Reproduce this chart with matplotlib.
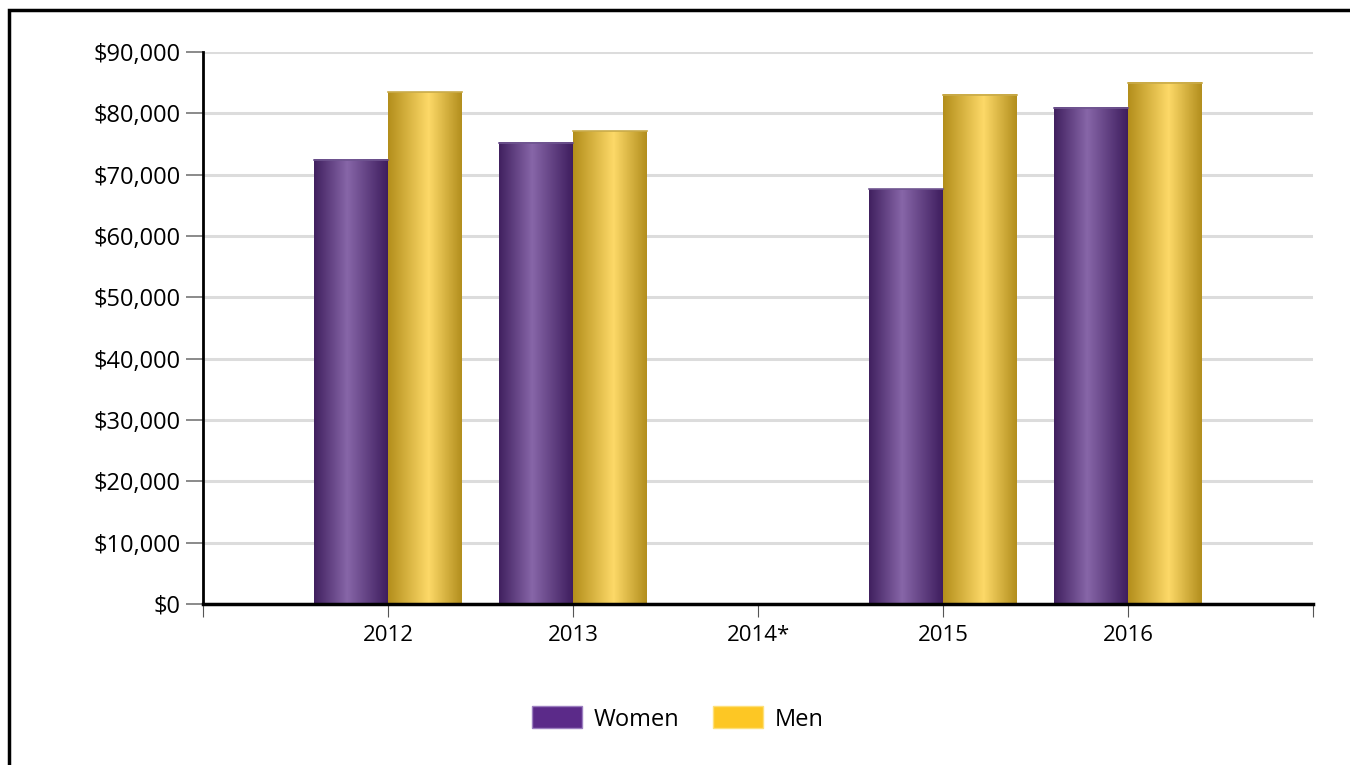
import matplotlib

matplotlib.use("Agg")
import matplotlib.pyplot as plt
import numpy as np
from matplotlib.colors import LinearSegmentedColormap
from matplotlib.patches import Patch, Rectangle
from matplotlib.ticker import FuncFormatter, MultipleLocator

years = ["2012", "2013", "2014*", "2015", "2016"]
women = [72400, 75200, 0, 67600, 80900]
men = [83400, 77100, 0, 83000, 85000]

plt.rcParams["font.family"] = ["Open Sans", "DejaVu Sans"]

fig = plt.figure(figsize=(13.5, 7.65), dpi=100)
ax = fig.add_axes([203 / 1350, 1 - 604 / 765, 1110 / 1350, 552 / 765])

# frame round the whole picture (right and bottom edges fall outside)
fig.patches.append(Rectangle((9 / 1350, -0.05), 1.1, 1 - 10 / 765 + 0.05,
                             transform=fig.transFigure, fill=False,
                             edgecolor="black", linewidth=2.5))

x = np.arange(len(years))
w = 0.4
bars_w = ax.bar(x - w / 2, women, w, color="none")
bars_m = ax.bar(x + w / 2, men, w, color="none")

cmap_w = LinearSegmentedColormap.from_list(
    "purple", [(0, "#40205f"), (0.45, "#8766a8"), (1, "#3e1d5e")])
cmap_m = LinearSegmentedColormap.from_list(
    "gold", [(0, "#b38e1b"), (0.55, "#fdd968"), (1, "#b28e1d")])
grad = np.linspace(0, 1, 256).reshape(1, -1)

for bars, cmap, edge in [(bars_w, cmap_w, "#6f5590"), (bars_m, cmap_m, "#c9ab4a")]:
    for r in bars:
        h = r.get_height()
        if h <= 0:
            continue
        x0 = r.get_x()
        ax.imshow(grad, cmap=cmap, aspect="auto", interpolation="bicubic",
                  extent=(x0, x0 + r.get_width(), 0, h), zorder=2)
        ax.plot([x0, x0 + r.get_width()], [h, h], color=edge, linewidth=1.2, zorder=3)

ax.set_xlim(-1, 5)
ax.set_ylim(0, 90000)
ax.yaxis.set_major_locator(MultipleLocator(10000))
ax.yaxis.set_major_formatter(FuncFormatter(lambda v, _: f"${v:,.0f}"))
ax.grid(axis="y", color="#dcdcdc", linewidth=2.2, zorder=0)
ax.set_axisbelow(True)

ax.set_xticks(np.arange(-1, 6))
ax.set_xticklabels([""] + years + [""])
ax.tick_params(axis="x", length=9, width=0.8, color="#555555", pad=6, labelsize=16)
ax.tick_params(axis="y", length=12, width=1.2, color="#777777", pad=4, labelsize=17)

for s in ["top", "right"]:
    ax.spines[s].set_visible(False)
ax.spines["left"].set_linewidth(2)
ax.spines["bottom"].set_linewidth(2.5)
ax.spines["bottom"].set_zorder(4)

handles = [Patch(facecolor="#5b2a89", edgecolor="#9c7fc0", label="Women"),
           Patch(facecolor="#fdc724", edgecolor="#fde07a", label="Men")]
fig.legend(handles=handles, loc="center", bbox_to_anchor=(678 / 1350, 1 - 719 / 765),
           ncol=2, frameon=False, fontsize=17, handlelength=2.1, handleheight=1.05,
           columnspacing=1.45, handletextpad=0.5)

fig.savefig("out.png", dpi=100)
plt.close(fig)
